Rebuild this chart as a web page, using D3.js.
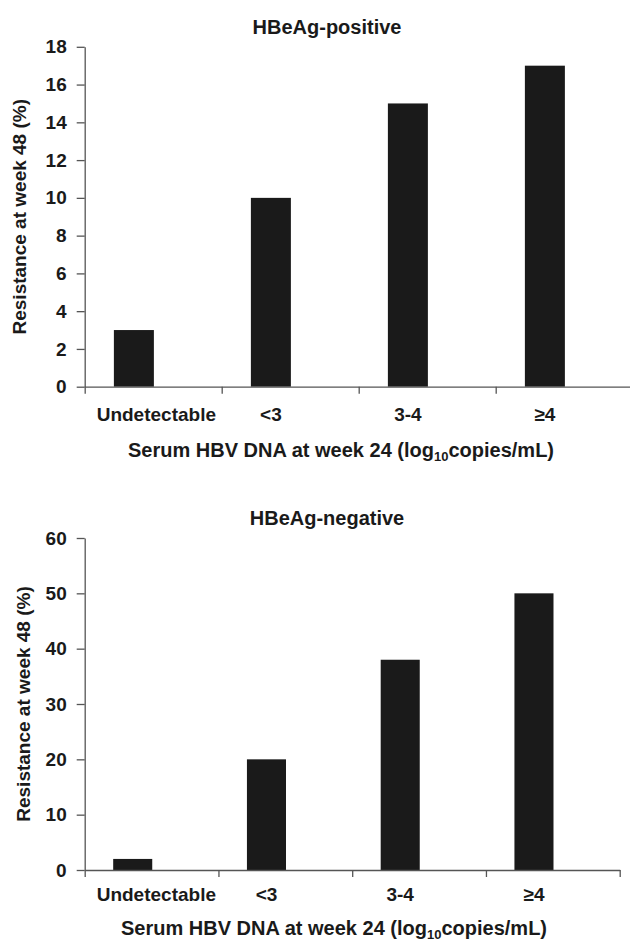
<!DOCTYPE html>
<html>
<head>
<meta charset="utf-8">
<script src="https://cdn.jsdelivr.net/npm/d3@7"></script>
<style>
  body { margin: 0; background: #fff; }
  svg text { font-family: "Liberation Sans", Arial, sans-serif; font-weight: bold; fill: #1a1a1a; }
</style>
</head>
<body>
<svg id="chart" width="630" height="941"></svg>
<script>
// data
const categories = ["Undetectable", "<3", "3-4", "\u22654"];
const positiveValues = [3, 10, 15, 17];
const negativeValues = [2, 20, 38, 50];
const positiveTicks = [0, 2, 4, 6, 8, 10, 12, 14, 16, 18];
const negativeTicks = [0, 10, 20, 30, 40, 50, 60];

const yTitle = "Resistance at week 48 (%)";

let svg = d3.select("#chart");

function draw_panel(opts) {
    let g = svg.append("g");

    let x = d3.scaleBand()
        .domain(opts.categories)
        .range([opts.left, opts.right])
        .padding(0);
    let bw = x.bandwidth();

    let y = d3.scaleLinear()
        .domain([0, d3.max(opts.ticks)])
        .range([opts.bottom, opts.top]);

    // title
    g.append("text")
        .attr("x", opts.titleX)
        .attr("y", opts.titleY)
        .attr("text-anchor", "middle")
        .style("font-size", "20px")
        .text(opts.title);

    // bars sit left of the category centre
    g.selectAll("rect")
        .data(opts.values)
        .enter()
        .append("rect")
        .attr("x", (d, i) => x(opts.categories[i]) + bw * 0.213)
        .attr("width", bw * 0.292)
        .attr("y", d => y(d))
        .attr("height", d => y(0) - y(d))
        .attr("fill", "#1a1a1a");

    // y axis
    let yAxis = d3.axisLeft(y)
        .tickValues(opts.ticks)
        .tickSize(8)
        .tickSizeOuter(0)
        .tickPadding(10);
    let ya = g.append("g")
        .attr("transform", `translate(${opts.left},0)`)
        .call(yAxis);
    ya.selectAll("text").style("font-size", "19px");

    // x axis: ticks on category boundaries
    let xb = d3.scaleLinear().domain([0, opts.categories.length]).range([opts.left, opts.right]);
    let xAxis = d3.axisBottom(xb)
        .tickValues(d3.range(0, opts.categories.length + 1))
        .tickFormat("")
        .tickSize(7)
        .tickSizeOuter(0);
    g.append("g")
        .attr("transform", `translate(0,${opts.bottom})`)
        .call(xAxis);

    g.selectAll(".domain, .tick line").attr("stroke", "#555").attr("stroke-width", 1.3);

    // category labels under the bars, kept clear of the y axis
    g.selectAll(".cat")
        .data(opts.categories)
        .enter()
        .append("text")
        .attr("class", "cat")
        .attr("y", opts.labelY)
        .attr("text-anchor", "middle")
        .style("font-size", "19px")
        .text(d => d)
        .attr("x", function (d) {
            let cx = x(d) + bw * 0.359;
            let w = this.getComputedTextLength();
            return Math.max(cx, opts.left + 12 + w / 2);
        });

    // axis titles
    let xt = g.append("text")
        .attr("x", opts.xTitleX)
        .attr("y", opts.xTitleY)
        .attr("text-anchor", "middle")
        .style("font-size", "20px");
    xt.append("tspan").text("Serum HBV DNA at week 24 (log");
    xt.append("tspan").attr("dy", 4).style("font-size", "13px").text("10");
    xt.append("tspan").attr("dy", -4).text("copies/mL)");

    g.append("text")
        .attr("transform", `translate(${opts.yTitleX},${(opts.top + opts.bottom) / 2}) rotate(-90)`)
        .attr("text-anchor", "middle")
        .style("font-size", "19px")
        .text(yTitle);
}

draw_panel({
    title: "HBeAg-positive",
    categories: categories,
    values: positiveValues,
    ticks: positiveTicks,
    left: 84.7, right: 632.7, top: 46.8, bottom: 386.7,
    titleX: 327, titleY: 34,
    labelY: 421, xTitleX: 341, xTitleY: 457, yTitleX: 26
});

draw_panel({
    title: "HBeAg-negative",
    categories: categories,
    values: negativeValues,
    ticks: negativeTicks,
    left: 84.7, right: 619.7, top: 538, bottom: 870,
    titleX: 327, titleY: 525,
    labelY: 901, xTitleX: 334, xTitleY: 935, yTitleX: 30
});
</script>
</body>
</html>
